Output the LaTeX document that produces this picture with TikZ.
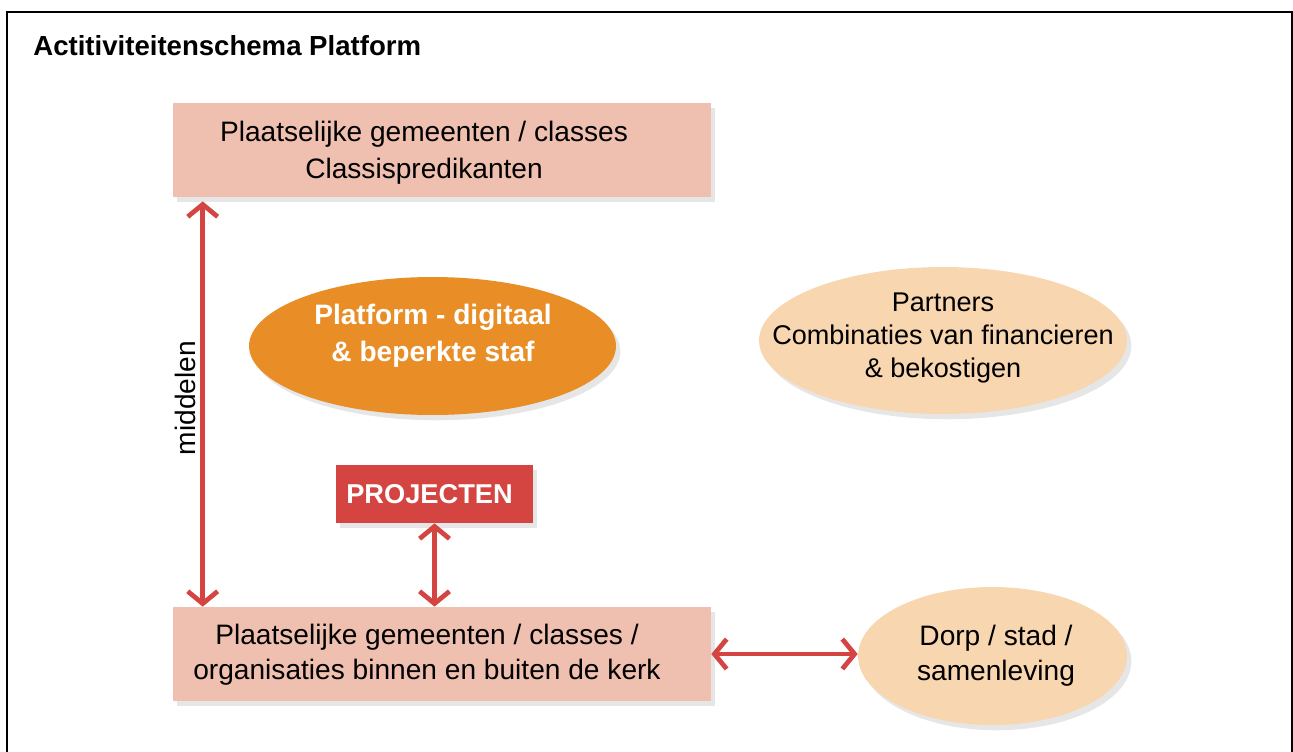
\documentclass[tikz,border=0pt]{standalone}
\usepackage{fontspec}
\setmainfont{Liberation Sans}
\usetikzlibrary{arrows.meta,shapes.geometric,shadows,calc}
\definecolor{blokroze}{HTML}{EFC0B0}
\definecolor{platoranje}{HTML}{E98E26}
\definecolor{perzik}{HTML}{F8D6B0}
\definecolor{projrood}{HTML}{D44542}
\tikzset{
  schaduw/.style={drop shadow={shadow xshift=2.5pt,shadow yshift=-3pt,opacity=0.2}},
  blok/.style={rectangle, fill=blokroze, minimum width=10.76cm, minimum height=1.88cm, schaduw},
  ovaal/.style={ellipse, schaduw},
  tekst/.style={align=center, font=\fontsize{16}{20}\selectfont},
  pijl/.style={draw=projrood, line width=2.7pt, {Straight Barb[length=7pt,width=17pt]}-{Straight Barb[length=7pt,width=17pt]}},
}
\begin{document}
\begin{tikzpicture}[x=0.02cm,y=-0.02cm]
                \useasboundingbox (0,0) rectangle (1293,751);
                \begin{scope}
                \clip (0,0) rectangle (1293,751);
                \draw[line width=1.7pt] (7,12) rectangle (1292,800);
                \end{scope}
                \node[anchor=west, inner sep=0pt, font=\bfseries\fontsize{15.7}{18}\selectfont] (titel) at (33,46) {Actitiviteitenschema Platform};
                \node[blok] (gemBoven) at (442,150) {};
                \node[tekst, font=\fontsize{16}{21}\selectfont] (gemBovenTxt) at (424,153) {Plaatselijke gemeenten / classes\\Classispredikanten};
                \node[blok] (gemOnder) at (442,654) {};
                \node[tekst] (gemOnderTxt) at (427,655) {Plaatselijke gemeenten / classes /\\organisaties binnen en buiten de kerk};
                \node[ovaal, fill=platoranje, minimum width=7.34cm, minimum height=2.76cm] (platform) at (432.5,346) {};
                \node[tekst, text=white, font=\bfseries\fontsize{16}{21}\selectfont] (platformTxt) at (433,335.5) {Platform - digitaal\\\& beperkte staf};
                \node[ovaal, fill=perzik, minimum width=7.36cm, minimum height=2.94cm] (partners) at (943,340.5) {};
                \node[tekst, font=\fontsize{15.4}{18.7}\selectfont] (partnersTxt) at (943,338) {Partners\\Combinaties van financieren\\\& bekostigen};
                \node[ovaal, fill=perzik, minimum width=5.38cm, minimum height=2.76cm] (dorp) at (992.5,656) {};
                \node[tekst] (dorpTxt) at (996,656) {Dorp / stad /\\samenleving};
                \node[rectangle, fill=projrood, schaduw, minimum width=3.94cm, minimum height=1.16cm, text=white, font=\bfseries\fontsize{15.5}{18}\selectfont] (projecten) at (434.5,494) {PROJECTEN\hspace*{0.2cm}};
                \draw[pijl] ($(gemBoven.south west)+(30,4)$) -- ($(gemOnder.north west)+(30,0)$);
                \node[tekst, rotate=90] (middelen) at (185,398) {middelen};
                \draw[pijl] (projecten.south) -- (projecten.south |- gemOnder.north);
                \draw[pijl] (gemOnder.east) -- (gemOnder.east -| dorp.west);
            \end{tikzpicture}
\end{document}
